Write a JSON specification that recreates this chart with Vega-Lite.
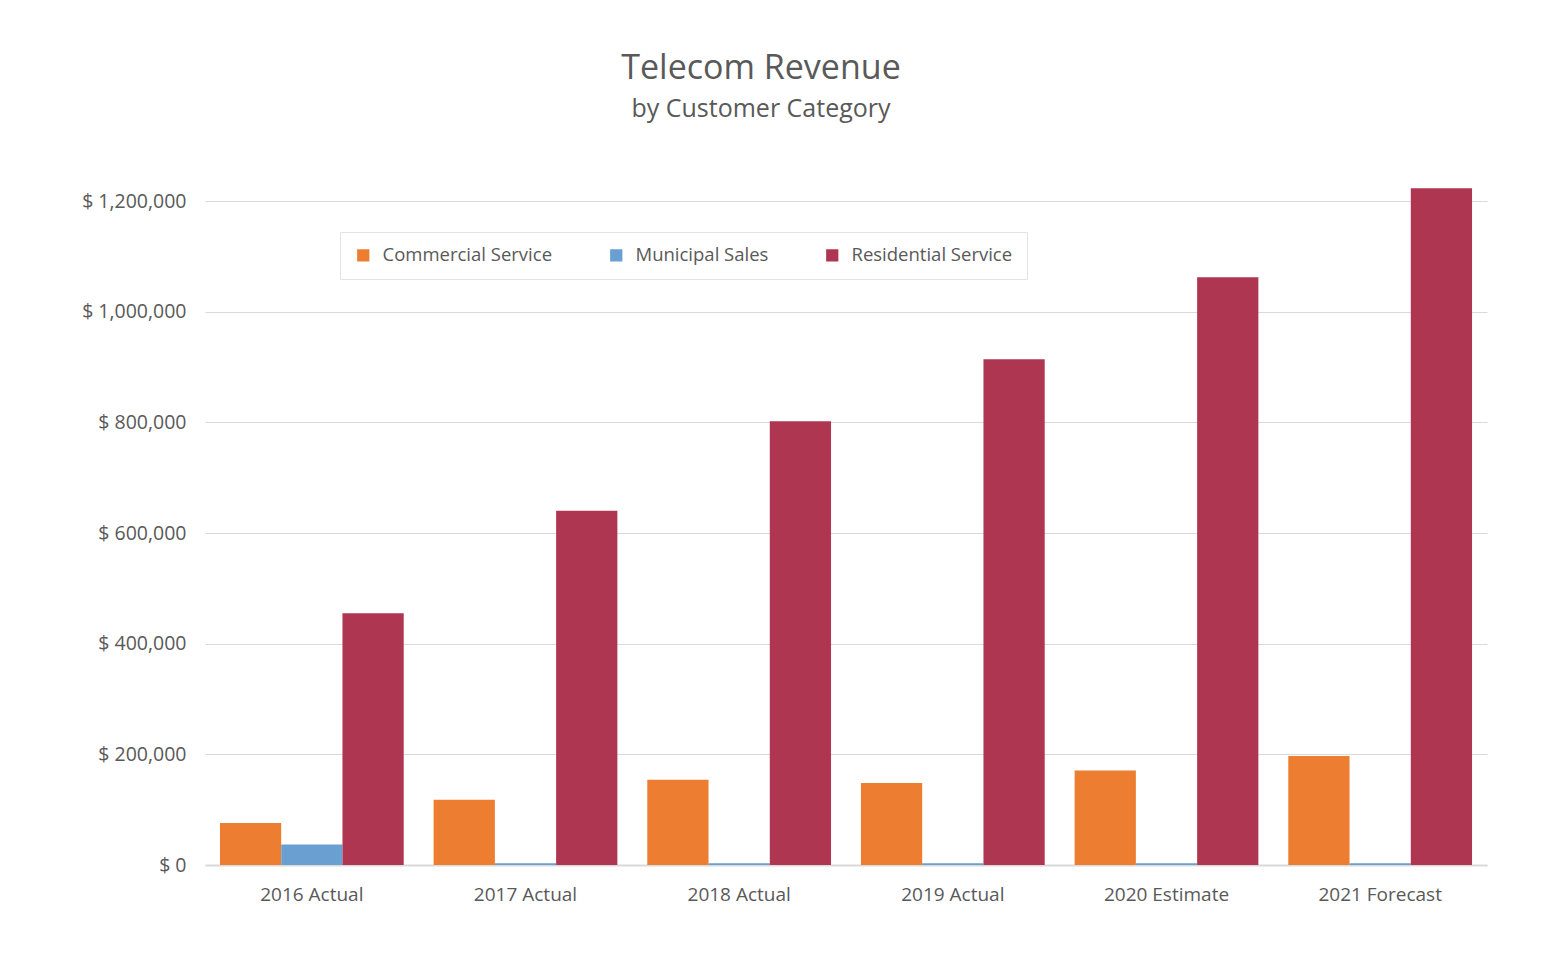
{
  "$schema": "https://vega.github.io/schema/vega-lite/v6.json",
  "width": 1282,
  "height": 664,
  "autosize": {"type": "none"},
  "padding": {"left": 205, "top": 201, "right": 62, "bottom": 98},
  "background": "white",
  "title": {
    "text": "Telecom Revenue",
    "subtitle": "by Customer Category",
    "anchor": "middle",
    "dx": -85,
    "offset": 66,
    "font": "Open Sans",
    "fontSize": 34,
    "fontWeight": "normal",
    "color": "#595959",
    "subtitleFont": "Open Sans",
    "subtitleFontSize": 25,
    "subtitleColor": "#595959",
    "subtitlePadding": 11
  },
  "data": {
    "values": [
      {"period": "2016 Actual", "category": "Commercial Service", "revenue": 76000},
      {"period": "2016 Actual", "category": "Municipal Sales", "revenue": 37000},
      {"period": "2016 Actual", "category": "Residential Service", "revenue": 455000},
      {"period": "2017 Actual", "category": "Commercial Service", "revenue": 118000},
      {"period": "2017 Actual", "category": "Municipal Sales", "revenue": 3000},
      {"period": "2017 Actual", "category": "Residential Service", "revenue": 640000},
      {"period": "2018 Actual", "category": "Commercial Service", "revenue": 154000},
      {"period": "2018 Actual", "category": "Municipal Sales", "revenue": 3000},
      {"period": "2018 Actual", "category": "Residential Service", "revenue": 802000},
      {"period": "2019 Actual", "category": "Commercial Service", "revenue": 148000},
      {"period": "2019 Actual", "category": "Municipal Sales", "revenue": 3000},
      {"period": "2019 Actual", "category": "Residential Service", "revenue": 914000},
      {"period": "2020 Estimate", "category": "Commercial Service", "revenue": 171000},
      {"period": "2020 Estimate", "category": "Municipal Sales", "revenue": 3000},
      {"period": "2020 Estimate", "category": "Residential Service", "revenue": 1062000},
      {"period": "2021 Forecast", "category": "Commercial Service", "revenue": 197000},
      {"period": "2021 Forecast", "category": "Municipal Sales", "revenue": 3000},
      {"period": "2021 Forecast", "category": "Residential Service", "revenue": 1223000}
    ]
  },
  "mark": {"type": "bar"},
  "encoding": {
    "x": {
      "field": "period",
      "type": "nominal",
      "sort": null,
      "title": null,
      "scale": {"paddingInner": 0.14, "paddingOuter": 0.07},
      "axis": {
        "labelAngle": 0,
        "labelFont": "Open Sans",
        "labelFontSize": 19,
        "labelColor": "#595959",
        "labelPadding": 20,
        "ticks": false,
        "tickSize": 0,
        "domainColor": "#d9d9d9",
        "domainWidth": 2,
        "grid": false
      }
    },
    "xOffset": {
      "field": "category",
      "type": "nominal",
      "scale": {"paddingInner": 0, "paddingOuter": 0}
    },
    "y": {
      "field": "revenue",
      "type": "quantitative",
      "title": null,
      "scale": {"domain": [0, 1200000], "nice": false},
      "axis": {
        "values": [0, 200000, 400000, 600000, 800000, 1000000, 1200000],
        "labelExpr": "'$ ' + format(datum.value, ',')",
        "labelFont": "Open Sans",
        "labelFontSize": 19.5,
        "labelColor": "#595959",
        "labelPadding": 19,
        "ticks": false,
        "tickSize": 0,
        "domain": false,
        "grid": true,
        "gridColor": "#d9d9d9",
        "gridWidth": 1
      }
    },
    "color": {
      "field": "category",
      "type": "nominal",
      "title": null,
      "scale": {
        "domain": ["Commercial Service", "Municipal Sales", "Residential Service"],
        "range": ["#ED7D31", "#6A9FD2", "#AE3650"]
      },
      "legend": {
        "orient": "none",
        "direction": "horizontal",
        "legendX": 135,
        "legendY": 31,
        "symbolType": "square",
        "symbolSize": 150,
        "symbolStrokeWidth": 0,
        "labelFont": "Open Sans",
        "labelFontSize": 18.5,
        "labelColor": "#595959",
        "labelLimit": 0,
        "labelOffset": 10,
        "columnPadding": 54,
        "padding": 14,
        "fillColor": "white",
        "strokeColor": "#e3e3e3"
      }
    }
  },
  "config": {"view": {"stroke": null}}
}
